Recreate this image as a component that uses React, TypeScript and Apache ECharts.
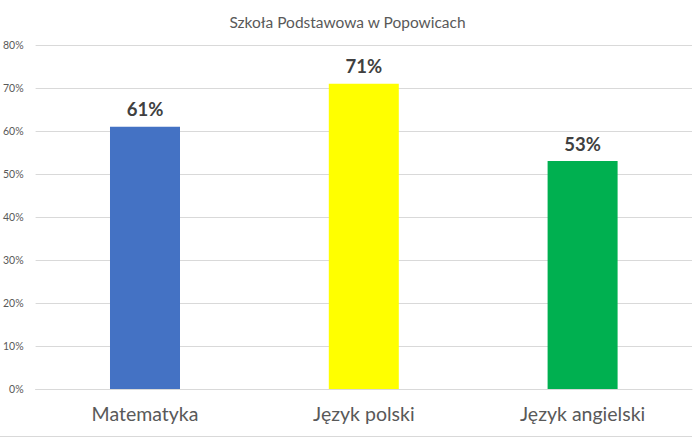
import React, { useEffect, useRef } from "react";
import * as echarts from "echarts";

const categories = ["Matematyka", "Język polski", "Język angielski"];
const values = [61, 71, 53];
const barColors = ["#4472C4", "#FFFF00", "#00B050"];
const yTicks = { min: 0, max: 80, interval: 10 };
const title = "Szkoła Podstawowa w Popowicach";

export default function App() {
  const ref = useRef<HTMLDivElement>(null);
  useEffect(() => {
    if (!ref.current) return;
    const chart = echarts.init(ref.current, null, { renderer: "svg" });
    const font = "Lato, 'Open Sans', sans-serif";
    chart.setOption({
      animation: false,
      backgroundColor: "#ffffff",
      title: {
        text: title,
        left: "center",
        top: 9,
        textStyle: { fontFamily: font, fontSize: 15.5, fontWeight: "normal", color: "#595959" },
      },
      grid: { left: 34, right: 3, top: 45, bottom: 49 },
      xAxis: {
        type: "category",
        data: categories,
        axisLine: { show: true, lineStyle: { color: "#d9d9d9" } },
        axisTick: { show: false },
        axisLabel: { fontFamily: font, fontSize: 19.5, color: "#595959", margin: 14 },
      },
      yAxis: {
        type: "value",
        min: yTicks.min,
        max: yTicks.max,
        interval: yTicks.interval,
        axisLine: { show: false },
        axisTick: { show: false },
        splitLine: { lineStyle: { color: "#d9d9d9" } },
        axisLabel: { fontFamily: font, fontSize: 10.5, color: "#595959", margin: 12, formatter: "{value}%" },
      },
      series: [
        {
          type: "bar",
          barWidth: 70,
          data: values.map((v, i) => ({ value: v, itemStyle: { color: barColors[i] } })),
          label: {
            show: true,
            position: "top",
            distance: 8,
            formatter: "{c}%",
            fontFamily: font,
            fontSize: 18.5,
            fontWeight: "bold",
            color: "#404040",
          },
        },
      ],
      graphic: [
        {
          type: "line",
          shape: { x1: 0, y1: 436.5, x2: 692, y2: 436.5 },
          style: { stroke: "#d9d9d9", lineWidth: 1 },
        },
      ],
    });
    return () => chart.dispose();
  }, []);
  return <div ref={ref} style={{ position: "absolute", left: 0, top: 0, width: 695, height: 438 }} />;
}
